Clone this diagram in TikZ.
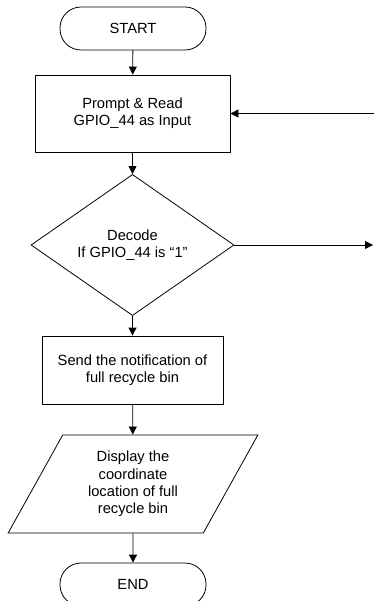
\documentclass[tikz,border=0pt]{standalone}
\usepackage{fontspec}
\setmainfont{Liberation Sans}
\usepackage{tikz}
\usetikzlibrary{arrows.meta,shapes.geometric}

\begin{document}
\begin{tikzpicture}[x=1pt,y=-1pt,>={Triangle[length=8pt,width=8pt]},
    every node/.style={font=\fontsize{14.7}{17.3}\selectfont,align=center,inner sep=0pt},
    terminal/.style={draw,rounded corners=21pt,minimum width=146pt,minimum height=43pt},
    process/.style={draw,rectangle},
    decision/.style={draw,diamond,minimum width=203pt,minimum height=130pt},
    io/.style={draw,trapezium,trapezium left angle=62,trapezium right angle=118,
        trapezium stretches=true,minimum width=250pt,minimum height=98pt},
    line width=0.8pt]
    % Fix the page size
    \useasboundingbox (0,0) rectangle (374,601);
    \clip (0,0) rectangle (374,601);

    % Draw the flow chart blocks
    \node[terminal] (start) at (133,28.5) {START};
    \node[process,minimum width=195pt,minimum height=77pt] (read) at (132.5,113.5) {Prompt \& Read\\GPIO\_44 as Input};
    \node[decision] (decode) at (132.5,245) {Decode\\If GPIO\_44 is ``1''};
    \node[process,minimum width=181pt,minimum height=68pt] (send) at (132.5,370) {Send the notification of\\full recycle bin};
    \node[io] (show) at (133,484) {Display the\\coordinate\\location of full\\recycle bin};
    \node[terminal] (end) at (133,584.5) {END};

    % Free ends on the right
    \coordinate (back) at (374,113.5);
    \coordinate (out) at (373,245);

    % Draw the connectors
    \draw[->] (start) -- (read);
    \draw[->] (read) -- (decode);
    \draw[->] (decode) -- (send);
    \draw[->] (send) -- (show);
    \draw[->] (show) -- (end);
    \draw[->] (back) -- (read.east);
    \draw[->] (decode.east) -- (out);
\end{tikzpicture}
\end{document}
